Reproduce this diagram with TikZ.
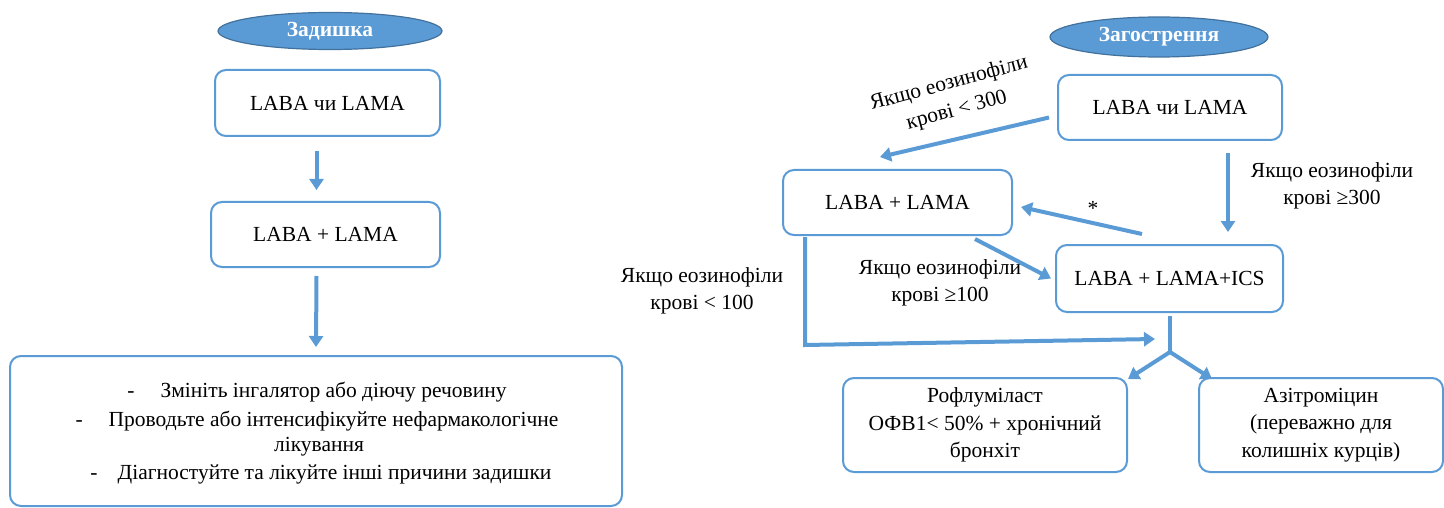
\documentclass[tikz,border=0pt]{standalone}
\usepackage{fontspec}
\setmainfont{Liberation Serif}
\usetikzlibrary{arrows.meta,shapes.geometric}
\definecolor{lblue}{HTML}{5B9BD5}
\definecolor{dblue}{HTML}{41719C}
\begin{document}
\begin{tikzpicture}[x=1pt,y=-1pt,
  every node/.style={font=\fontsize{21.5}{27.5}\selectfont, inner sep=0pt},
  box/.style={draw=lblue, line width=2pt, rounded corners=11pt, fill=white, align=center},
  oval/.style={ellipse, draw=dblue, line width=1.2pt, fill=lblue, text=white, font=\fontsize{21.5}{25}\selectfont\bfseries},
  arr/.style={draw=lblue, line width=4pt, -{Triangle[length=11pt,width=14pt]}},
  ln/.style={draw=lblue, line width=4pt},
  lab/.style={align=center}]
\useasboundingbox (0,0) rectangle (1444,508);
% left
\node[oval, minimum width=224pt, minimum height=37pt] (e1) at (330,31) {Задишка};
\node[box, minimum width=225pt, minimum height=66pt] (l1) at (327.5,103) {LABA чи LAMA};
\node[box, minimum width=229pt, minimum height=65pt] (l2) at (325.5,234.5) {LABA + LAMA};
\node[box, minimum width=612pt, minimum height=150pt] (l3) at (316,431) {};
\node (t1) at (317,392) {-\hspace{26pt}Змініть інгалятор або діючу речовину};
\node (t2) at (317,421) {-\hspace{26pt}Проводьте або інтенсифікуйте нефармакологічне};
\node (t3) at (319,447) {лікування};
\node (t4) at (321,474) {-\hspace{20pt}Діагностуйте та лікуйте інші причини задишки};
\draw[arr] ([shift={(-11,14)}]l1.south) -- ([shift={(-9,-11)}]l2.north);
\draw[arr] ([shift={(-9,8)}]l2.south) -- ([shift={(0,-8)}]l3.north);
% right
\node[oval, minimum width=218pt, minimum height=40pt] (e2) at (1159,37) {Загострення};
\node[box, minimum width=224pt, minimum height=65pt] (r1) at (1170,107.5) {LABA чи LAMA};
\node[box, minimum width=229pt, minimum height=65pt] (r2) at (897.5,202.5) {LABA + LAMA};
\node[box, minimum width=227pt, minimum height=67pt] (r3) at (1169.5,278.5) {LABA + LAMA+ICS};
\node[box, minimum width=284pt, minimum height=94pt] (r4) at (985,425) {Рофлуміласт\\ОФВ1< 50\% + хронічний\\бронхіт};
\node[box, minimum width=244pt, minimum height=94pt] (r5) at (1321,425) {Азітроміцин\\(переважно для\\колишніх курців)};
\node[rotate=15] (a1) at (949,84) {Якщо еозинофіли};
\node[rotate=15] (a1b) at (957,111) {крові < 300};
\node[lab] (a2) at (1332,186) {Якщо еозинофіли\\крові ≥300};
\node (a3) at (1093,208) {*};
\node[lab] (a4) at (940,283) {Якщо еозинофіли\\крові ≥100};
\node[lab] (a5) at (702,291) {Якщо еозинофіли\\крові < 100};
\coordinate (jn) at (1170,352);
\coordinate (hend) at (1155,339);
\draw[arr] ([shift={(-8,10)}]r1.west) -- ([shift={(-17.5,-12)}]r2.north);
\draw[arr] ([shift={(58,12)}]r1.south) -- ([shift={(58.5,-12)}]r3.north);
\draw[arr] ([shift={(-27.5,-10)}]r3.north) -- ([shift={(8,4.5)}]r2.east);
\draw[arr] ([shift={(77.5,3)}]r2.south) -- ([shift={(-4,0)}]r3.west);
\draw[arr] ([shift={(-92.5,1)}]r2.south) -- (805,345) -- (hend);
\draw[ln] ([shift={(0.5,3)}]r3.south) -- (jn);
\draw[arr] (jn) -- ([shift={(0,2)}]r4.north east);
\draw[arr] (jn) -- ([shift={(14,2)}]r5.north west);
\end{tikzpicture}
\end{document}
